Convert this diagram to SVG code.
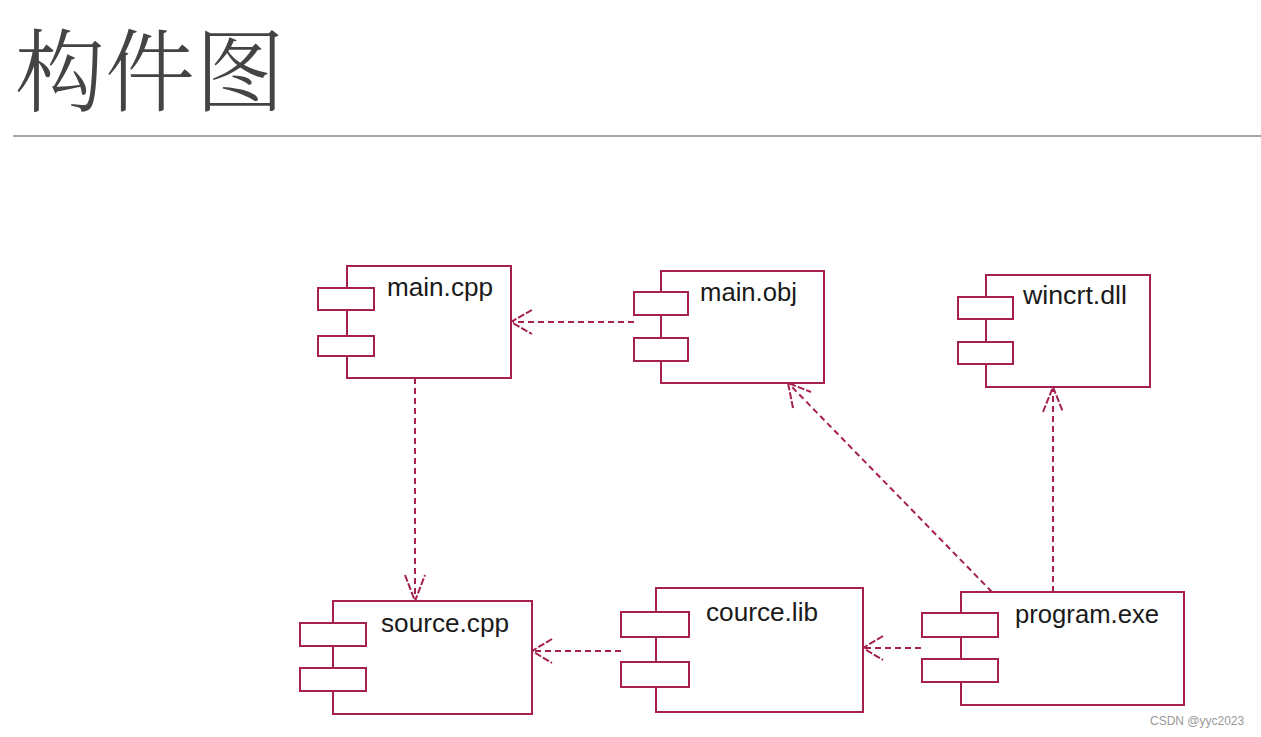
<svg xmlns="http://www.w3.org/2000/svg" width="1261" height="737" viewBox="0 0 1261 737">
<style>
.box{fill:#fff;stroke:#a52050;stroke-width:2}
.lbl{font-family:"Liberation Sans",Arial,sans-serif;font-size:26px;fill:#1a1a1a}
.con{fill:none;stroke:#a52050;stroke-width:2;stroke-dasharray:6 4}
.head{fill:none;stroke:#a52050;stroke-width:2;stroke-dasharray:7 2}
</style>
<rect width="1261" height="737" fill="#fff"/>
<text x="15" y="104" font-family="'Noto Serif CJK SC','Noto Sans CJK SC',serif" font-size="90" font-weight="300" fill="#444">构件图</text>
<line x1="13" y1="136" x2="1261" y2="136" stroke="#8a8a8a" stroke-width="1.5"/>

<g id="connectors">
<path class="con" d="M634,322 H513"/>
<path class="head" d="M532,310 L511,322 L532,334"/>
<path class="con" d="M415,378 V599"/>
<path class="head" d="M405,575 L415,601 L425,575"/>
<path class="con" d="M621,651 H534"/>
<path class="head" d="M552,639 L532,651 L552,663"/>
<path class="con" d="M921,648 H865"/>
<path class="head" d="M883,636 L863,648 L883,660"/>
<path class="con" d="M992,592 L790,385"/>
<path class="head" d="M793,408 L788,383 L811,392"/>
<path class="con" d="M1053,592 V389"/>
<path class="head" d="M1043,412 L1053,387 L1063,412"/>
</g>

<g id="main_cpp">
<rect class="box" x="347" y="266" width="164" height="112"/>
<rect class="box" x="318" y="288" width="56" height="22"/>
<rect class="box" x="318" y="336" width="56" height="20"/>
<text class="lbl" x="387" y="296" textLength="106" lengthAdjust="spacingAndGlyphs">main.cpp</text>
</g>

<g id="main_obj">
<rect class="box" x="661" y="271" width="163" height="112"/>
<rect class="box" x="634" y="292" width="54" height="23"/>
<rect class="box" x="634" y="338" width="54" height="23"/>
<text class="lbl" x="700" y="301" textLength="97" lengthAdjust="spacingAndGlyphs">main.obj</text>
</g>

<g id="wincrt_dll">
<rect class="box" x="986" y="275" width="164" height="112"/>
<rect class="box" x="958" y="297" width="55" height="22"/>
<rect class="box" x="958" y="342" width="55" height="22"/>
<text class="lbl" x="1023" y="304" textLength="104" lengthAdjust="spacingAndGlyphs">wincrt.dll</text>
</g>

<g id="source_cpp">
<rect class="box" x="333" y="601" width="199" height="113"/>
<rect class="box" x="300" y="623" width="66" height="23"/>
<rect class="box" x="300" y="668" width="66" height="23"/>
<text class="lbl" x="381" y="632" textLength="128" lengthAdjust="spacingAndGlyphs">source.cpp</text>
</g>

<g id="cource_lib">
<rect class="box" x="656" y="588" width="207" height="124"/>
<rect class="box" x="621" y="612" width="68" height="25"/>
<rect class="box" x="621" y="662" width="68" height="25"/>
<text class="lbl" x="706" y="621" textLength="112" lengthAdjust="spacingAndGlyphs">cource.lib</text>
</g>

<g id="program_exe">
<rect class="box" x="961" y="592" width="223" height="113"/>
<rect class="box" x="922" y="613" width="76" height="24"/>
<rect class="box" x="922" y="659" width="76" height="23"/>
<text class="lbl" x="1015" y="623" textLength="144" lengthAdjust="spacingAndGlyphs">program.exe</text>
</g>

<text x="1150" y="725" font-family="'Liberation Sans',Arial,sans-serif" font-size="12" fill="#999">CSDN @yyc2023</text>
</svg>
